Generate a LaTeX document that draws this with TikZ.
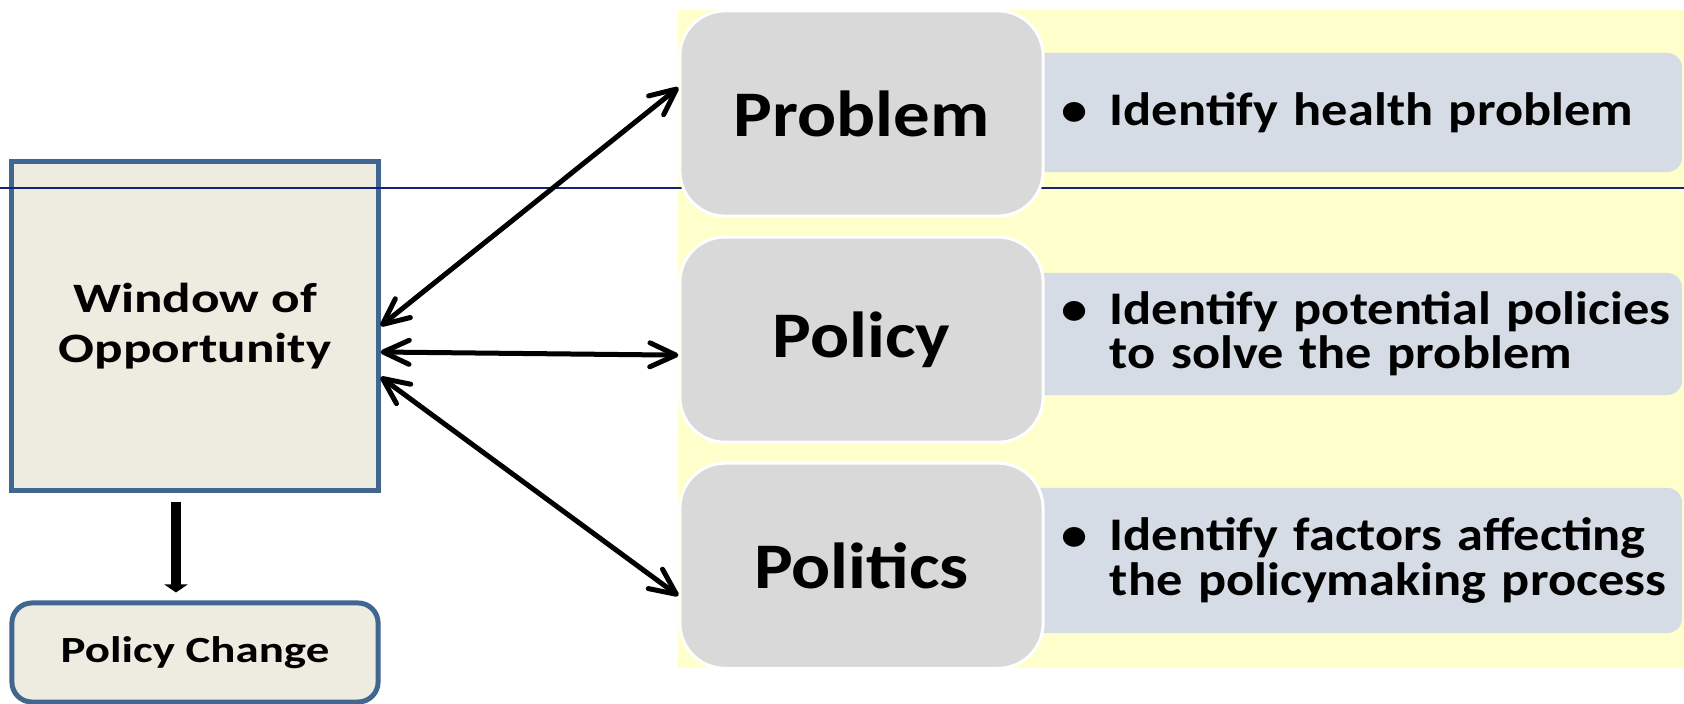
\documentclass[tikz,border=0pt]{standalone}
\usepackage{fontspec}
\setmainfont{Carlito}[FakeStretch=1.12]
\newfontfamily\widefont{Carlito}[FakeStretch=1.27]
\usetikzlibrary{arrows.meta,positioning}

\definecolor{bandyellow}{HTML}{FFFFCC}
\definecolor{boxgray}{HTML}{D9D9D9}
\definecolor{descblue}{HTML}{D6DCE5}
\definecolor{winfill}{HTML}{EEECE1}
\definecolor{winedge}{HTML}{41668F}
\definecolor{rulenavy}{HTML}{13247A}

% bullet and hanging indent for the description boxes
\newcommand{\descitem}{\hspace*{0.62cm}\makebox[0.48cm][l]{\textbullet}}
\newcommand{\descmore}{\hspace*{1.1cm}}

\begin{document}
\begin{tikzpicture}
    [
        x=0.01cm, y=-0.01cm,
        >={Straight Barb[round,length=0.26cm,width=0.24cm]},
        winbox/.style={rectangle, draw=winedge, fill=winfill, line width=0.05cm, minimum width=3.66cm, align=center},
        streambox/.style={rectangle, rounded corners=0.45cm, draw=white, fill=boxgray, line width=0.03cm, minimum width=3.63cm, minimum height=2.05cm, font=\fontsize{18.5}{22}\selectfont\bfseries},
        descbox/.style={rectangle, rounded corners=0.15cm, fill=descblue, minimum width=6.82cm, text width=6.82cm, inner xsep=0pt, align=left, font=\fontsize{13.3}{12.6}\selectfont\bfseries},
        link/.style={<->, line width=0.05cm},
        downlink/.style={-{Triangle[length=0.08cm,width=0.23cm]}, line width=0.1cm}
    ]

    \useasboundingbox (0,0) rectangle (1684,704);

    % yellow band behind the three streams
    \fill [bandyellow] (678,10) rectangle (1684,668);

    \node [winbox, minimum height=3.28cm, font=\widefont\bfseries\fontsize{11.9}{14.2}\selectfont] (win) at (195,326) {Window of\\Opportunity};
    \node [winbox, rounded corners=0.2cm, minimum height=0.99cm, font=\widefont\bfseries\fontsize{10.5}{12}\selectfont] (change) at (195,652.5) {Policy Change};

    \draw [rulenavy, line width=0.015cm] (0,188) -- (1684,188);

    % descriptions first, the stream boxes sit over their left ends
    \node [descbox, minimum height=1.19cm] (probdesc) at (1341,112.5) {\descitem Identify health problem};
    \node [descbox, minimum height=1.22cm] (poldesc) at (1341,334) {\descitem Identify potential policies\\\descmore to solve the problem};
    \node [descbox, minimum height=1.45cm] (politdesc) at (1341,560.5) {\descitem Identify factors affecting\\\descmore the policymaking process};

    \node [streambox] (problem) at (861.5,113.5) {Problem};
    \node [streambox] (policy) [below=0.18cm of problem] {Policy};
    \node [streambox] (politics) [below=0.18cm of policy] {Politics};

    \draw [link] (win.east) -- ([yshift=0.26cm]problem.west);
    \draw [link] ([yshift=-0.26cm]win.east) -- ([yshift=-0.155cm]policy.west);
    \draw [link] ([yshift=-0.51cm]win.east) -- ([yshift=-0.3cm]politics.west);

    \draw [downlink] ([xshift=-0.19cm,yshift=-0.09cm]win.south) -- ([xshift=-0.19cm,yshift=0.08cm]change.north);

\end{tikzpicture}
\end{document}
